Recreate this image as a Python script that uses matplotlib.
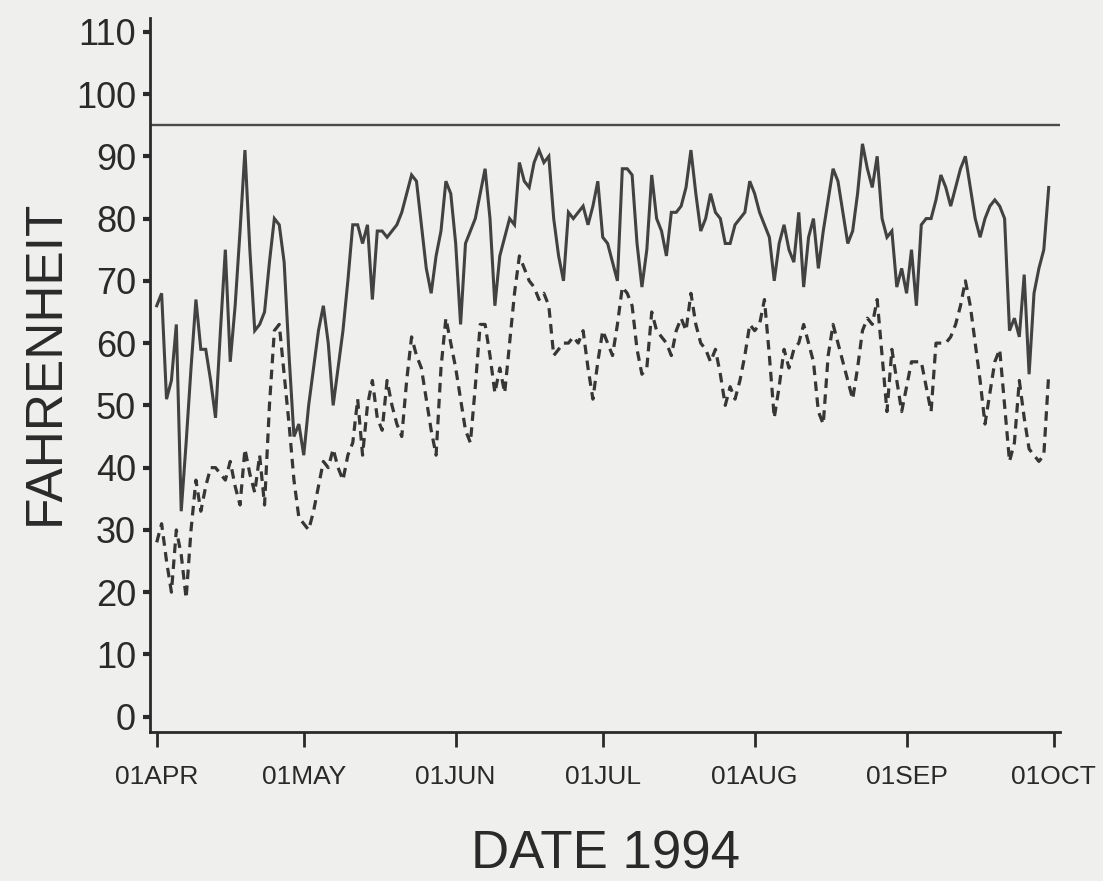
import numpy as np
import pandas as pd
import matplotlib
matplotlib.use("Agg")
import matplotlib.pyplot as plt
import matplotlib.dates as mdates

# =========================================================
# Daily high / low temperatures, 01APR1994 - 30SEP1994
# =========================================================
tmax_apr = [66, 68, 51, 54, 63, 33, 44, 56, 67, 59, 59, 54, 48, 62, 75,
            57, 66, 78, 91, 75, 62, 63, 65, 73, 80, 79, 73, 58, 45, 47]
tmax_may = [42, 50, 56, 62, 66, 60, 50, 56, 62, 70, 79, 79, 76, 79, 67, 78,
            78, 77, 78, 79, 81, 84, 87, 86, 79, 72, 68, 74, 78, 86, 84]
tmax_jun = [76, 63, 76, 78, 80, 84, 88, 80, 66, 74, 77, 80, 79, 89, 86,
            85, 89, 91, 89, 90, 80, 74, 70, 81, 80, 81, 82, 79, 82, 86]
tmax_jul = [77, 76, 73, 70, 88, 88, 87, 76, 69, 75, 87, 80, 78, 74, 81, 81,
            82, 85, 91, 84, 78, 80, 84, 81, 80, 76, 76, 79, 80, 81, 86]
tmax_aug = [84, 81, 79, 77, 70, 76, 79, 75, 73, 81, 69, 77, 80, 72, 78, 83,
            88, 86, 81, 76, 78, 84, 92, 88, 85, 90, 80, 77, 78, 69, 72]
tmax_sep = [68, 75, 66, 79, 80, 80, 83, 87, 85, 82, 85, 88, 90, 85, 80,
            77, 80, 82, 83, 82, 80, 62, 64, 61, 71, 55, 68, 72, 75, 85]

tmin_apr = [28, 31, 25, 20, 30, 26, 19, 30, 38, 33, 37, 40, 40, 39, 38,
            41, 37, 34, 43, 39, 36, 42, 34, 50, 62, 63, 55, 47, 38, 32]
tmin_may = [31, 30, 33, 37, 41, 40, 43, 40, 38, 42, 44, 51, 42, 50, 54, 48,
            46, 54, 50, 47, 45, 54, 61, 58, 56, 51, 46, 42, 56, 64, 60]
tmin_jun = [56, 51, 46, 44, 53, 63, 63, 58, 52, 56, 52, 60, 68, 74, 72,
            70, 69, 67, 68, 66, 58, 59, 60, 60, 61, 60, 62, 56, 51, 57]
tmin_jul = [62, 60, 58, 63, 69, 68, 66, 59, 55, 56, 65, 62, 61, 60, 58, 62,
            64, 62, 68, 63, 60, 59, 57, 59, 55, 50, 53, 51, 54, 58, 63]
tmin_aug = [62, 63, 67, 58, 48, 53, 59, 56, 59, 60, 63, 60, 57, 49, 47, 58,
            63, 60, 57, 54, 51, 56, 62, 64, 63, 67, 58, 49, 59, 54, 49]
tmin_sep = [53, 57, 57, 57, 53, 49, 60, 60, 60, 61, 63, 66, 70, 66, 60,
            54, 47, 52, 57, 59, 50, 41, 44, 54, 48, 43, 42, 41, 42, 55]

REF_LEVEL = 95
y_ticks = list(range(0, 111, 10))
x_tick_dates = ["1994-04-01", "1994-05-01", "1994-06-01",
                "1994-07-01", "1994-08-01", "1994-09-01", "1994-10-01"]
x_tick_labels = ["01APR", "01MAY", "01JUN", "01JUL", "01AUG", "01SEP", "01OCT"]

tmax = tmax_apr + tmax_may + tmax_jun + tmax_jul + tmax_aug + tmax_sep
tmin = tmin_apr + tmin_may + tmin_jun + tmin_jul + tmin_aug + tmin_sep
dates = pd.date_range("1994-04-01", periods=len(tmax), freq="D")

# =========================================================
# Figure
# =========================================================
plt.rcParams["font.family"] = ["Liberation Sans", "DejaVu Sans"]
bg = "#efefed"
ink = "#2a2a2a"

fig = plt.figure(figsize=(11.03, 8.81), dpi=100, facecolor=bg)
ax = fig.add_axes([0.136, 0.1695, 0.825, 0.81], facecolor=bg)

ax.plot(dates, tmax, color="#424242", lw=2.2, solid_joinstyle="miter")
ax.plot(dates, tmin, color="#363636", lw=2.3, linestyle=(0, (3, 2)))
ax.axhline(REF_LEVEL, color="#4a4a4a", lw=1.7)

start = mdates.date2num(pd.Timestamp("1994-04-01"))
ax.set_xlim(start - 1.37, start + 184.3)
ax.set_ylim(-2.4, 112.2)

ax.set_yticks(y_ticks)
ax.set_yticklabels([str(v) for v in y_ticks], fontsize=26, color=ink)
ax.set_xticks(mdates.date2num(pd.to_datetime(x_tick_dates)))
ax.set_xticklabels(x_tick_labels, fontsize=19, color=ink)

ax.tick_params(axis="y", direction="out", length=5, width=3, color=ink, pad=5)
ax.tick_params(axis="x", direction="out", length=11, width=2, color=ink, pad=13)

for side in ["top", "right"]:
    ax.spines[side].set_visible(False)
for side in ["left", "bottom"]:
    ax.spines[side].set_linewidth(2)
    ax.spines[side].set_color(ink)

fig.text(0.041, 0.589, "FAHRENHEIT", rotation=90, ha="center", va="center",
         fontsize=37, color=ink)
fig.text(0.549, 0.03, "DATE 1994", ha="center", va="center",
         fontsize=38, color=ink)

fig.savefig("out.png", dpi=100, facecolor=bg)
